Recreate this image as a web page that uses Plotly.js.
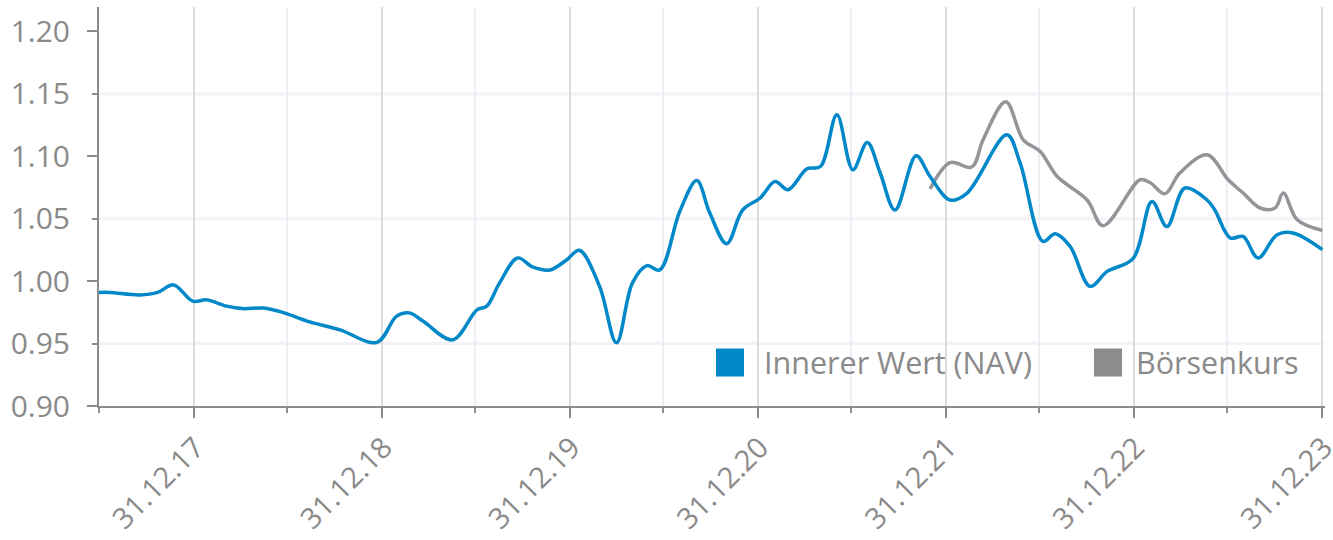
<!DOCTYPE html>
<html>
<head>
<meta charset="utf-8">
<script src="https://cdn.plot.ly/plotly-3.0.1.min.js"></script>
<style>html,body{margin:0;padding:0;background:#fff}</style>
</head>
<body>
<div id="chart" style="width:1333px;height:540px"></div>
<script>
// Innerer Wert (NAV)
const navDates = [
    '2017-06-30', '2017-07-21', '2017-09-17', '2017-10-22', '2017-11-22', '2017-12-29',
    '2018-01-25', '2018-03-05', '2018-04-05', '2018-05-15', '2018-06-22', '2018-08-08',
    '2018-10-11', '2018-12-22', '2019-01-29', '2019-02-23', '2019-03-21', '2019-05-18',
    '2019-07-04', '2019-07-23', '2019-08-17', '2019-09-21', '2019-10-20', '2019-11-23',
    '2019-12-25', '2020-01-19', '2020-02-27', '2020-03-31', '2020-05-01', '2020-05-29',
    '2020-06-23', '2020-08-01', '2020-09-03', '2020-09-28', '2020-10-31', '2020-12-01',
    '2021-01-04', '2021-02-02', '2021-02-27', '2021-04-05', '2021-05-01', '2021-06-02',
    '2021-07-03', '2021-07-31', '2021-08-25', '2021-09-23', '2021-11-03', '2021-11-30',
    '2022-01-08', '2022-02-10', '2022-04-28', '2022-05-24', '2022-07-07', '2022-07-31',
    '2022-08-29', '2022-10-07', '2022-11-09', '2022-12-29', '2023-02-04', '2023-03-05',
    '2023-04-09', '2023-05-22', '2023-06-06', '2023-07-06', '2023-07-31', '2023-08-29',
    '2023-10-05', '2023-11-05', '2024-01-01'
];
const navValues = [
    0.991, 0.991, 0.989, 0.991, 0.997, 0.984,
    0.985, 0.980, 0.978, 0.9785, 0.975, 0.968,
    0.961, 0.951, 0.972, 0.9746, 0.968, 0.953,
    0.977, 0.980, 0.9986, 1.0186, 1.0114, 1.009,
    1.017, 1.0247, 0.996, 0.9506, 0.9986, 1.0124,
    1.009, 1.056, 1.0806, 1.0548, 1.030, 1.057,
    1.0666, 1.0798, 1.0732, 1.090, 1.0918, 1.1332,
    1.0892, 1.111, 1.0868, 1.057, 1.1004, 1.0838,
    1.065, 1.0706, 1.1172, 1.0946, 1.0318, 1.038,
    1.0278, 0.9958, 1.0078, 1.018, 1.0638, 1.0438,
    1.0746, 1.065, 1.057, 1.0346, 1.0358, 1.0186,
    1.0372, 1.0386, 1.0252
];

// Börsenkurs
const kursDates = [
    '2021-11-30', '2022-01-08', '2022-02-19', '2022-03-13', '2022-04-26', '2022-05-30',
    '2022-07-02', '2022-08-04', '2022-10-01', '2022-11-01', '2023-01-12', '2023-01-31',
    '2023-03-01', '2023-03-30', '2023-05-22', '2023-07-02', '2023-07-31', '2023-09-02',
    '2023-10-01', '2023-10-17', '2023-11-13', '2024-01-01'
];
const kursValues = [
    1.0738, 1.095, 1.0914, 1.1132, 1.1438, 1.1132,
    1.1038, 1.0838, 1.065, 1.0444, 1.0812, 1.079,
    1.070, 1.0866, 1.1012, 1.0812, 1.0706, 1.0586,
    1.0586, 1.0706, 1.0492, 1.0406
];

const seriesNames = ['Innerer Wert (NAV)', 'Börsenkurs'];
const seriesColors = ['#0088c8', '#939598'];
const legendColors = ['#0088c8', '#8c8c8c'];

const tickDates = ['2017-12-31', '2018-12-31', '2019-12-31', '2020-12-31', '2021-12-31', '2022-12-31', '2023-12-31'];
const tickLabels = ['31.12.17', '31.12.18', '31.12.19', '31.12.20', '31.12.21', '31.12.22', '31.12.23'];
const midYearDates = ['2017-06-30', '2018-06-30', '2019-06-30', '2020-06-30', '2021-06-30', '2022-06-30', '2023-06-30'];

const yTicks = [0.90, 0.95, 1.00, 1.05, 1.10, 1.15, 1.20];
const yLongTicks = [0.90, 1.00, 1.10, 1.20];
const yGridVals = [0.95, 1.05, 1.15];
const yRange = [0.9, 1.2196];

const textGray = '#8a8a8a';
const axisGray = '#8c8c8c';

const data = [
    {
        x: kursDates, y: kursValues, name: seriesNames[1],
        type: 'scatter', mode: 'lines', yaxis: 'y',
        line: { color: seriesColors[1], width: 3.5, shape: 'spline', smoothing: 1 }
    },
    {
        x: navDates, y: navValues, name: seriesNames[0],
        type: 'scatter', mode: 'lines', yaxis: 'y2',
        line: { color: seriesColors[0], width: 3.5, shape: 'spline', smoothing: 1 }
    }
];

// horizontale Hilfslinien
const shapes = yGridVals.map(v => ({
    type: 'line', xref: 'paper', x0: 0, x1: 1, yref: 'y', y0: v, y1: v,
    line: { color: '#f2f2f8', width: 3 }, layer: 'below'
}));

// Legende mit Quadraten
const legendPos = [0.5147, 0.823];
const legendTextPos = [0.5408, 0.8443];
const annotations = [];
seriesNames.forEach((name, i) => {
    shapes.push({
        type: 'rect', xref: 'paper', yref: 'paper',
        xsizemode: 'pixel', ysizemode: 'pixel',
        xanchor: legendPos[i], yanchor: 0.109,
        x0: -14, x1: 14, y0: -14, y1: 14,
        fillcolor: legendColors[i], line: { width: 0 }
    });
    annotations.push({
        xref: 'paper', yref: 'paper', x: legendTextPos[i], y: 0.111,
        xanchor: 'left', yanchor: 'middle', showarrow: false,
        text: name, font: { family: 'Open Sans', size: 30.5, color: textGray }
    });
});

const layout = {
    width: 1333,
    height: 540,
    margin: { l: 99, r: 8, t: 7, b: 134 },
    paper_bgcolor: '#fff',
    plot_bgcolor: '#fff',
    showlegend: false,
    font: { family: 'Open Sans', color: textGray },
    xaxis: {
        type: 'date',
        range: ['2017-06-30', '2024-01-06'],
        tickmode: 'array', tickvals: tickDates, ticktext: tickLabels,
        tickangle: -45,
        tickfont: { family: 'Open Sans', size: 29, color: textGray },
        ticklabelstandoff: 1,
        ticklabelshift: 2,
        ticklabeloverflow: 'allow',
        ticks: 'outside', ticklen: 10, tickwidth: 2, tickcolor: axisGray,
        showline: true, linecolor: axisGray, linewidth: 2,
        showgrid: true, gridcolor: '#dcdcdc', gridwidth: 2,
        zeroline: false,
        minor: {
            tickmode: 'array', tickvals: midYearDates,
            ticks: 'outside', ticklen: 5, tickwidth: 2, tickcolor: axisGray,
            showgrid: true, gridcolor: '#eeeef5', gridwidth: 2
        },
        automargin: false
    },
    yaxis: {
        range: yRange,
        tickmode: 'array', tickvals: yTicks, ticktext: yTicks.map(v => v.toFixed(2)),
        tickfont: { family: 'Open Sans', size: 30, color: textGray },
        ticklabelstandoff: 16,
        ticks: 'outside', ticklen: 5, tickwidth: 2, tickcolor: axisGray,
        showline: true, linecolor: axisGray, linewidth: 2,
        showgrid: false, zeroline: false,
        automargin: false
    },
    // zweite Achse nur für die langen Striche
    yaxis2: {
        range: yRange, overlaying: 'y', side: 'left',
        tickmode: 'array', tickvals: yLongTicks,
        showticklabels: false,
        ticks: 'outside', ticklen: 11, tickwidth: 2, tickcolor: axisGray,
        showline: false, showgrid: false, zeroline: false,
        automargin: false
    },
    shapes: shapes,
    annotations: annotations
};

Plotly.newPlot('chart', data, layout, { displayModeBar: false, staticPlot: true });
</script>
</body>
</html>
